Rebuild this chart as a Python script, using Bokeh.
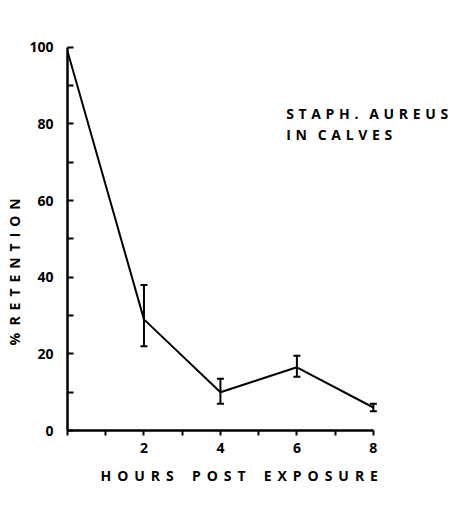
from bokeh.plotting import figure
from bokeh.models import FixedTicker, Whisker, TeeHead, ColumnDataSource, Label, Title
from bokeh.embed import file_html
from bokeh.resources import INLINE

hours = [0, 2, 4, 6, 8]
retention = [99, 29, 10, 16.5, 6]
err_upper = [99, 38, 13.5, 19.5, 7]
err_lower = [99, 22, 7, 14, 5]
x_ticks = [0, 1, 2, 3, 4, 5, 6, 7, 8]
x_labels = {0: "", 1: "", 2: "2", 3: "", 4: "4", 5: "", 6: "6", 7: "", 8: "8"}
y_ticks = [0, 10, 20, 30, 40, 50, 60, 70, 80, 90, 100]
y_labels = {0: "0", 10: "", 20: "20", 30: "", 40: "40", 50: "", 60: "60", 70: "", 80: "80", 90: "", 100: "100"}
x_title = "HOURS POST EXPOSURE"
y_title = "% RETENTION"
note_lines = ["STAPH. AUREUS", "IN CALVES"]

FONT = "Open Sans"
NB = "\u00a0"
TH = "\u2009"


def spaced(s, gap, wordgap):
    return wordgap.join(gap.join(list(w)) for w in s.split(" "))


p = figure(width=455, height=492, output_backend="svg", toolbar_location=None,
           x_range=(0, 10.07), y_range=(0, 101),
           min_border_left=67, min_border_top=43, min_border_bottom=62, min_border_right=3)
p.outline_line_color = None
p.grid.visible = False

p.xaxis.ticker = FixedTicker(ticks=x_ticks)
p.xaxis.major_label_overrides = x_labels
p.xaxis.bounds = (0, 8)
p.yaxis.ticker = FixedTicker(ticks=y_ticks)
p.yaxis.major_label_overrides = y_labels
p.yaxis.bounds = (0, 100)

for ax in (p.xaxis, p.yaxis):
    ax.axis_line_width = 2.5
    ax.major_tick_line_width = 2
    ax.minor_tick_line_color = None
    ax.major_label_text_font = FONT
    ax.major_label_text_font_style = "bold"
    ax.major_label_text_font_size = "14px"
    ax.major_label_text_color = "black"

p.xaxis.major_tick_in = 0
p.xaxis.major_tick_out = 5
p.xaxis.major_label_standoff = 7
p.yaxis.major_tick_in = 6
p.yaxis.major_tick_out = 0
p.yaxis.major_label_standoff = 14

p.add_layout(Title(text=spaced(x_title, NB + TH, NB * 5), align="left", offset=33, standoff=16,
                   text_font=FONT, text_font_style="bold", text_font_size="14px",
                   text_color="black"), "below")
p.add_layout(Title(text=spaced(y_title, NB + TH, NB * 2), align="left", offset=85, standoff=5,
                   text_font=FONT, text_font_style="bold", text_font_size="14px",
                   text_color="black"), "left")

p.line(hours, retention, line_color="black", line_width=2)

src = ColumnDataSource(dict(base=hours[1:], upper=err_upper[1:], lower=err_lower[1:]))
p.add_layout(Whisker(source=src, base="base", upper="upper", lower="lower",
                     line_color="black", line_width=2,
                     upper_head=TeeHead(size=7, line_width=2, line_color="black"),
                     lower_head=TeeHead(size=7, line_width=2, line_color="black")))

for txt, yy in zip(note_lines, (82.8, 77.3)):
    p.add_layout(Label(x=5.72, y=yy, text=spaced(txt, TH + TH, NB * 3), text_font=FONT,
                       text_font_style="bold", text_font_size="14px", text_color="black",
                       text_baseline="middle", text_align="left"))

open("out.html", "w").write(file_html(p, INLINE))
